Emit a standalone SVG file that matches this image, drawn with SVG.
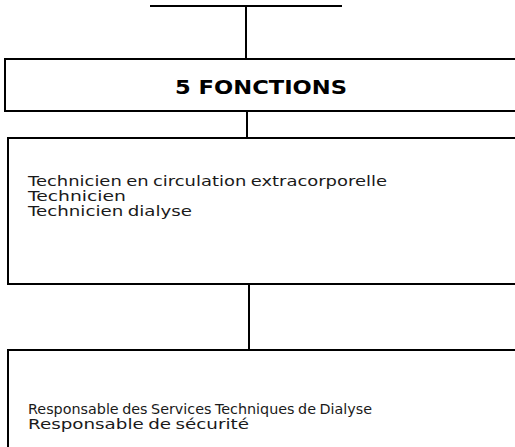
<svg xmlns="http://www.w3.org/2000/svg" width="515" height="447" viewBox="0 0 515 447">
<style>
.box{fill:#fff;stroke:#000;stroke-width:2}
.ln{stroke:#000;stroke-width:2;fill:none}
.t{font-family:"DejaVu Sans","Liberation Sans",sans-serif;font-size:13.5px;fill:#1a1a1a;word-spacing:-1px}
.h{font-family:"DejaVu Sans","Liberation Sans",sans-serif;font-size:20px;font-weight:bold;fill:#000}
</style>
<rect width="515" height="447" fill="#fff"/>
<g id="connectors">
<line class="ln" x1="150" y1="6" x2="342" y2="6"/>
<line class="ln" x1="246" y1="6" x2="246" y2="59"/>
<line class="ln" x1="247" y1="111" x2="247" y2="138"/>
<line class="ln" x1="249" y1="284" x2="249" y2="350"/>
</g>
<g id="node-fonctions">
<rect class="box" x="5" y="59" width="520" height="52"/>
<text class="h" x="175" y="93.5" textLength="172" lengthAdjust="spacingAndGlyphs">5 FONCTIONS</text>
</g>
<g id="node-techniciens">
<rect class="box" x="8" y="138" width="520" height="146"/>
<text class="t" x="28" y="186" textLength="359" lengthAdjust="spacingAndGlyphs">Technicien en circulation extracorporelle</text>
<text class="t" x="28" y="201" textLength="98" lengthAdjust="spacingAndGlyphs">Technicien</text>
<text class="t" x="28" y="216" textLength="164" lengthAdjust="spacingAndGlyphs">Technicien dialyse</text>
</g>
<g id="node-responsables">
<rect class="box" x="8" y="350" width="520" height="110"/>
<text class="t" x="28" y="414" textLength="344" lengthAdjust="spacingAndGlyphs">Responsable des Services Techniques de Dialyse</text>
<text class="t" x="28" y="429" textLength="221" lengthAdjust="spacingAndGlyphs">Responsable de sécurité</text>
</g>
</svg>
